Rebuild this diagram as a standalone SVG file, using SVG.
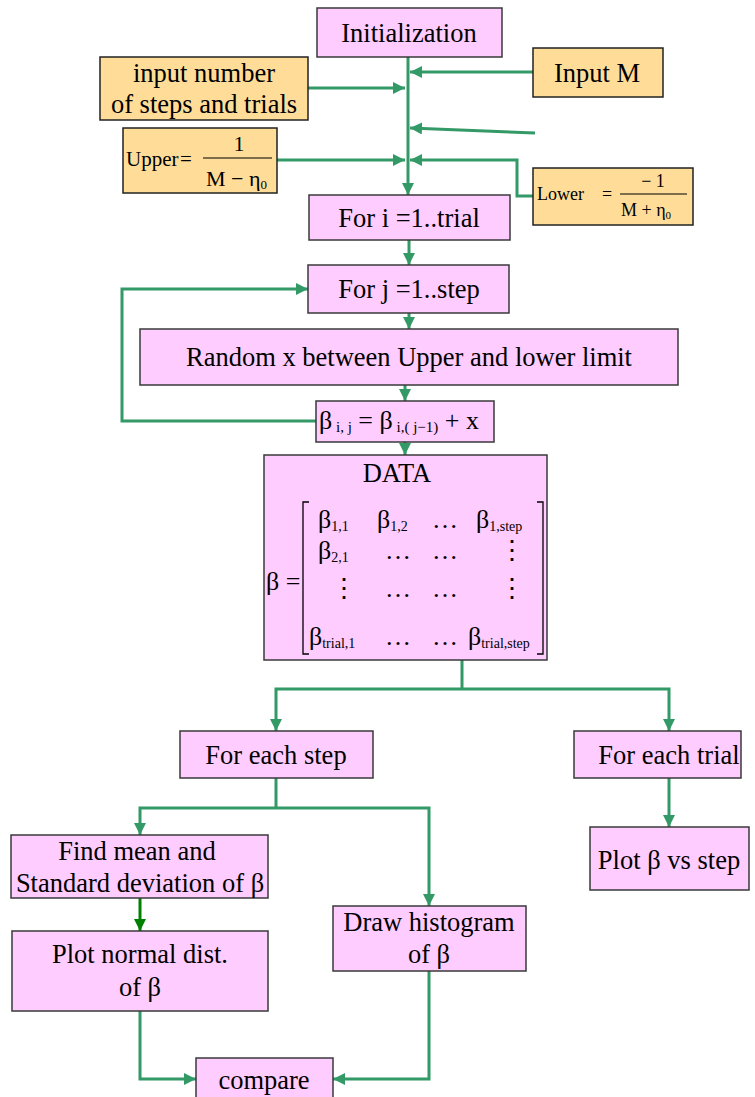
<svg xmlns="http://www.w3.org/2000/svg" width="755" height="1097" viewBox="0 0 755 1097">
<style>
.p{fill:#FFCCFF;stroke:#3a3a3a;stroke-width:1.5}
.o{fill:#FFDD99;stroke:#222;stroke-width:1.5}
.t{font-family:'Liberation Serif','Times New Roman','DejaVu Serif',serif;font-size:26.5px;fill:#000;text-anchor:middle}
.m{font-family:'Liberation Serif','Times New Roman','DejaVu Serif',serif;fill:#000}
.c{fill:none;stroke:#339966;stroke-width:3}
.br{fill:none;stroke:#000;stroke-width:1.3}
</style>
<defs>
<marker id="a" viewBox="0 0 12 12" refX="12" refY="6" markerWidth="12" markerHeight="12" markerUnits="userSpaceOnUse" orient="auto"><path d="M0,0 L12,6 L0,12 z" fill="#339966"/></marker>
<marker id="d" viewBox="0 0 12 12" refX="12" refY="6" markerWidth="12" markerHeight="12" markerUnits="userSpaceOnUse" orient="auto"><path d="M0,0 L12,6 L0,12 z" fill="#008000"/></marker>
</defs>
<g id="connectors">
<path class="c" d="M408,57 V195" marker-end="url(#a)"/>
<path class="c" d="M533,72 H410" marker-end="url(#a)"/>
<path class="c" d="M308,88 H405" marker-end="url(#a)"/>
<path class="c" d="M535,133 L410,128" marker-end="url(#a)"/>
<path class="c" d="M277,160 H405" marker-end="url(#a)"/>
<path class="c" d="M533,196 H517 V160 H410" marker-end="url(#a)"/>
<path class="c" d="M409,240 V265" marker-end="url(#a)"/>
<path class="c" d="M409,313 V329" marker-end="url(#a)"/>
<path class="c" d="M405,385 V401" marker-end="url(#a)"/>
<path class="c" d="M405,442 V455" marker-end="url(#a)"/>
<path class="c" d="M316,421 H122 V289 H308" marker-end="url(#a)"/>
<path class="c" d="M462,660 V689"/>
<path class="c" d="M462,689 H276 V731" marker-end="url(#a)"/>
<path class="c" d="M462,689 H669 V731" marker-end="url(#a)"/>
<path class="c" d="M276,778 V808"/>
<path class="c" d="M276,808 H140 V835" marker-end="url(#a)"/>
<path class="c" d="M276,808 H429 V906" marker-end="url(#a)"/>
<path class="c" d="M669,778 V827" marker-end="url(#a)"/>
<path d="M140,898 V931" fill="none" stroke="#008000" stroke-width="3" marker-end="url(#d)"/>
<path class="c" d="M140,1011 V1079 H196" marker-end="url(#a)"/>
<path class="c" d="M429,971 V1079 H333" marker-end="url(#a)"/>
</g>
<g id="init"><rect class="p" x="317" y="8" width="185" height="49"/><text class="t" x="409" y="42">Initialization</text></g>
<g id="inputM"><rect class="o" x="533" y="48" width="130" height="49"/><text class="t" x="597" y="82">Input M</text></g>
<g id="inputN"><rect class="o" x="100" y="57" width="208" height="63"/><text class="t" x="204" y="82">input number</text><text class="t" x="204" y="113">of steps and trials</text></g>
<g id="upper"><rect class="o" x="123" y="128" width="154" height="65"/>
<text class="m" x="126" y="166" font-size="21">Upper</text><text class="m" x="180" y="166" font-size="21">=</text>
<line x1="203" y1="158" x2="272" y2="158" stroke="#000" stroke-width="1.2"/>
<text class="m" x="239" y="151" font-size="22" text-anchor="middle">1</text>
<text class="m" x="206" y="186" font-size="22">M − η<tspan font-size="13" dy="3">0</tspan></text></g>
<g id="lower"><rect class="o" x="533" y="168" width="160" height="57"/>
<text class="m" x="537" y="200" font-size="18">Lower</text><text class="m" x="602" y="200" font-size="18">=</text>
<line x1="620" y1="194" x2="687" y2="194" stroke="#000" stroke-width="1.1"/>
<text class="m" x="653" y="187" font-size="18" text-anchor="middle">− 1</text>
<text class="m" x="621" y="216" font-size="18">M + η<tspan font-size="11" dy="3">0</tspan></text></g>
<g id="fori"><rect class="p" x="309" y="195" width="201" height="45"/><text class="t" x="409" y="227">For i =1..trial</text></g>
<g id="forj"><rect class="p" x="308" y="265" width="201" height="48"/><text class="t" x="409" y="298">For j =1..step</text></g>
<g id="random"><rect class="p" x="140" y="329" width="538" height="56"/><text class="t" x="409" y="366">Random x between Upper and lower limit</text></g>
<g id="update"><rect class="p" x="316" y="401" width="178" height="41"/>
<text class="m" x="319" y="429" font-size="26">β<tspan font-size="15" dy="3"> i, j</tspan><tspan dy="-3" font-size="26"> = β</tspan><tspan font-size="15" dy="3"> i,( j−1)</tspan><tspan dy="-3" font-size="26"> + x</tspan></text></g>
<g id="data"><rect class="p" x="264" y="455" width="283" height="205"/>
<text class="t" x="397" y="482">DATA</text>
<text class="m" x="266" y="590" font-size="26">β =</text>
<path class="br" d="M309,502 H303 V654 H309"/>
<path class="br" d="M537,502 H543 V654 H537"/>
<g font-size="26" class="m">
<text x="318" y="528">β<tspan font-size="14" dy="3">1,1</tspan></text>
<text x="377" y="528">β<tspan font-size="14" dy="3">1,2</tspan></text>
<text x="432" y="528">…</text>
<text x="476" y="528">β<tspan font-size="14" dy="3">1,step</tspan></text>
<text x="318" y="559">β<tspan font-size="14" dy="3">2,1</tspan></text>
<text x="385" y="559">…</text>
<text x="432" y="559">…</text>
<text x="499" y="559">⋮</text>
<text x="331" y="597">⋮</text>
<text x="385" y="597">…</text>
<text x="432" y="597">…</text>
<text x="499" y="597">⋮</text>
<text x="309" y="645">β<tspan font-size="14" dy="3">trial,1</tspan></text>
<text x="385" y="645">…</text>
<text x="432" y="645">…</text>
<text x="468" y="645">β<tspan font-size="14" dy="3">trial,step</tspan></text>
</g></g>
<g id="eachstep"><rect class="p" x="180" y="731" width="193" height="47"/><text class="t" x="276" y="764">For each step</text></g>
<g id="eachtrial"><rect class="p" x="574" y="731" width="167" height="47"/><text class="t" x="669" y="764">For each trial</text></g>
<g id="plotvs"><rect class="p" x="590" y="827" width="159" height="63"/><text class="t" x="669" y="869">Plot β vs step</text></g>
<g id="findmean"><rect class="p" x="11" y="835" width="257" height="63"/><text class="t" x="137" y="860">Find mean and</text><text class="t" x="140" y="892">Standard deviation of β</text></g>
<g id="plotnormal"><rect class="p" x="12" y="931" width="256" height="80"/><text class="t" x="140" y="963">Plot normal dist.</text><text class="t" x="140" y="996">of β</text></g>
<g id="hist"><rect class="p" x="333" y="906" width="193" height="65"/><text class="t" x="429" y="931">Draw histogram</text><text class="t" x="429" y="963">of β</text></g>
<g id="compare"><rect class="p" x="196" y="1058" width="137" height="50"/><text class="t" x="264" y="1089">compare</text></g>
</svg>
